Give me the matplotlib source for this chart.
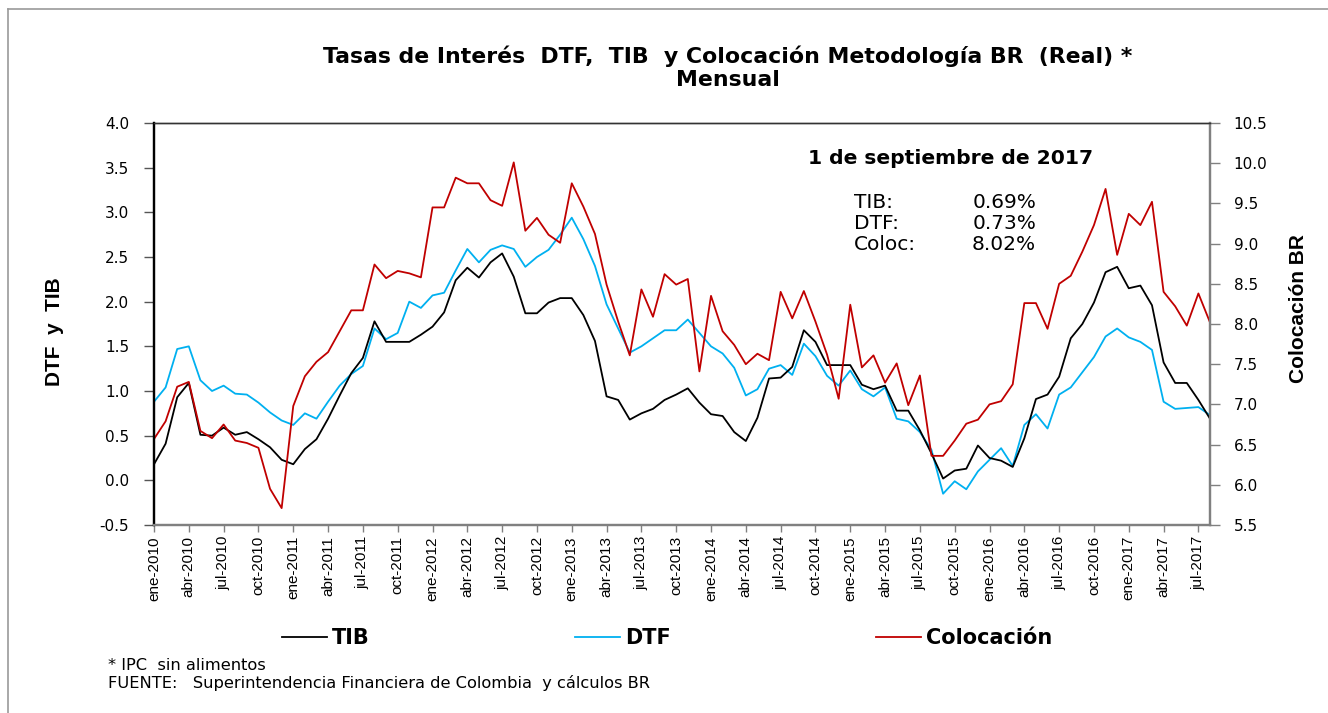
import matplotlib
matplotlib.use("Agg")
import matplotlib.pyplot as plt
from matplotlib.lines import Line2D

# ---------------- data ----------------
months_es = ["ene", "feb", "mar", "abr", "may", "jun", "jul", "ago", "sep", "oct", "nov", "dic"]
start_year = 2010
n_points = 92  # ene-2010 .. ago-2017

tib = [0.18, 0.41, 0.93, 1.09, 0.51, 0.50, 0.59, 0.51, 0.54, 0.46, 0.37, 0.23,
       0.18, 0.35, 0.46, 0.69, 0.95, 1.20, 1.37, 1.78, 1.55, 1.55, 1.55, 1.63,
       1.72, 1.88, 2.24, 2.38, 2.27, 2.44, 2.54, 2.28, 1.87, 1.87, 1.99, 2.04,
       2.04, 1.85, 1.56, 0.94, 0.90, 0.68, 0.75, 0.80, 0.90, 0.96, 1.03, 0.87,
       0.74, 0.72, 0.54, 0.44, 0.70, 1.14, 1.15, 1.27, 1.68, 1.55, 1.29, 1.29,
       1.29, 1.07, 1.02, 1.06, 0.78, 0.78, 0.56, 0.30, 0.02, 0.11, 0.13, 0.39,
       0.25, 0.22, 0.15, 0.47, 0.91, 0.96, 1.16, 1.59, 1.75, 1.99, 2.33, 2.39,
       2.15, 2.18, 1.96, 1.32, 1.09, 1.09, 0.90, 0.69]

dtf = [0.88, 1.04, 1.47, 1.50, 1.12, 1.00, 1.06, 0.97, 0.96, 0.87, 0.76, 0.67,
       0.62, 0.75, 0.69, 0.88, 1.06, 1.19, 1.28, 1.70, 1.58, 1.65, 2.00, 1.93,
       2.07, 2.10, 2.35, 2.59, 2.44, 2.58, 2.63, 2.59, 2.39, 2.50, 2.58, 2.75,
       2.94, 2.70, 2.40, 1.97, 1.70, 1.43, 1.50, 1.59, 1.68, 1.68, 1.80, 1.65,
       1.50, 1.42, 1.26, 0.95, 1.02, 1.25, 1.29, 1.18, 1.53, 1.39, 1.17, 1.06,
       1.23, 1.02, 0.94, 1.04, 0.69, 0.66, 0.54, 0.34, -0.15, -0.01, -0.10, 0.10,
       0.23, 0.36, 0.16, 0.62, 0.74, 0.58, 0.96, 1.04, 1.21, 1.38, 1.61, 1.70,
       1.60, 1.55, 1.46, 0.88, 0.80, 0.81, 0.82, 0.73]

colocacion = [6.57, 6.79, 7.22, 7.28, 6.67, 6.58, 6.75, 6.55, 6.52, 6.46, 5.95, 5.71,
              6.98, 7.35, 7.53, 7.65, 7.91, 8.17, 8.17, 8.74, 8.57, 8.66, 8.63, 8.58,
              9.45, 9.45, 9.82, 9.75, 9.75, 9.54, 9.47, 10.01, 9.16, 9.32, 9.11, 9.01,
              9.75, 9.46, 9.12, 8.49, 8.03, 7.61, 8.43, 8.09, 8.62, 8.49, 8.56, 7.41,
              8.35, 7.91, 7.74, 7.50, 7.63, 7.55, 8.40, 8.07, 8.41, 8.03, 7.62, 7.07,
              8.24, 7.46, 7.61, 7.27, 7.51, 6.99, 7.36, 6.36, 6.36, 6.55, 6.76, 6.81,
              7.00, 7.04, 7.25, 8.26, 8.26, 7.94, 8.50, 8.60, 8.90, 9.23, 9.68, 8.86,
              9.37, 9.23, 9.52, 8.40, 8.22, 7.98, 8.38, 8.02]

left_ticks = [-0.5, 0.0, 0.5, 1.0, 1.5, 2.0, 2.5, 3.0, 3.5, 4.0]
right_ticks = [5.5, 6.0, 6.5, 7.0, 7.5, 8.0, 8.5, 9.0, 9.5, 10.0, 10.5]

title_line1 = "Tasas de Interés  DTF,  TIB  y Colocación Metodología BR  (Real) *"
title_line2 = "Mensual"
note_title = "1 de septiembre de 2017"
note_labels = ["TIB:", "DTF:", "Coloc:"]
note_values = ["0.69%", "0.73%", "8.02%"]
footnote1 = "* IPC  sin alimentos"
footnote2 = "FUENTE:   Superintendencia Financiera de Colombia  y cálculos BR"

# ---------------- build labels ----------------
month_labels = []
for k in range(n_points):
    y = start_year + k // 12
    month_labels.append(f"{months_es[k % 12]}-{y}")
x = list(range(n_points))
tick_pos = list(range(0, n_points, 3))
tick_lab = [month_labels[k] for k in tick_pos]

C_TIB = "#000000"
C_DTF = "#00B0F0"
C_COL = "#C00000"

W, H = 1328, 713
fig = plt.figure(figsize=(W / 100, H / 100), dpi=100)
fig.patch.set_facecolor("white")

# outer frame lines (left and top)
fig.add_artist(Line2D([8 / W, 8 / W], [0, 1 - 9 / H], color="#9a9a9a", lw=1.2, transform=fig.transFigure))
fig.add_artist(Line2D([8 / W, 1], [1 - 9 / H, 1 - 9 / H], color="#9a9a9a", lw=1.2, transform=fig.transFigure))

ax_l, ax_r, ax_t, ax_b = 154, 1210, 123, 525
ax = fig.add_axes([ax_l / W, 1 - ax_b / H, (ax_r - ax_l) / W, (ax_b - ax_t) / H])
ax2 = ax.twinx()

l1, = ax.plot(x, tib, color=C_TIB, lw=1.3, label="TIB", zorder=3)
l2, = ax.plot(x, dtf, color=C_DTF, lw=1.3, label="DTF", zorder=2)
l3, = ax2.plot(x, colocacion, color=C_COL, lw=1.3, label="Colocación")

ax.set_xlim(0, n_points - 1)
ax.set_ylim(-0.5, 4.0)
ax2.set_ylim(5.5, 10.5)

ax.set_yticks(left_ticks)
ax.set_yticklabels([f"{v:.1f}" for v in left_ticks], fontsize=11, family="DejaVu Sans")
ax2.set_yticks(right_ticks)
ax2.set_yticklabels([f"{v:.1f}" for v in right_ticks], fontsize=11, family="DejaVu Sans")

ax.set_xticks(tick_pos)
ax.set_xticklabels(tick_lab, rotation=90, fontsize=11, family="Liberation Sans")

ax.tick_params(axis="y", direction="out", length=7, width=1, color="#555555", pad=11)
ax2.tick_params(axis="y", direction="out", length=7, width=1, color="#808080", pad=10)
ax.tick_params(axis="x", direction="out", length=5, width=1, color="#808080", pad=3)

for a in (ax, ax2):
    a.spines["left"].set_color("black")
    a.spines["left"].set_linewidth(1.6)
    a.spines["top"].set_color("#333333")
    a.spines["top"].set_linewidth(1.0)
    a.spines["right"].set_color("#808080")
    a.spines["right"].set_linewidth(1.6)
    a.spines["bottom"].set_color("#808080")
    a.spines["bottom"].set_linewidth(1.6)

# axis labels
fig.text(54 / W, 1 - 332 / H, "DTF  y  TIB", rotation=90, ha="center", va="center",
         fontsize=15, fontweight="bold", family="Liberation Sans")
fig.text(1298 / W, 1 - 309 / H, "Colocación BR", rotation=90, ha="center", va="center",
         fontsize=15, fontweight="bold", family="Liberation Sans")

# title
fig.text(728 / W, 1 - 56 / H, title_line1, ha="center", va="center",
         fontsize=15.8, fontweight="bold", family="DejaVu Sans")
fig.text(728 / W, 1 - 80 / H, title_line2, ha="center", va="center",
         fontsize=15.8, fontweight="bold", family="DejaVu Sans")

# annotation
fig.text(808 / W, 1 - 158 / H, note_title, ha="left", va="center",
         fontsize=14.6, fontweight="bold", family="DejaVu Sans")
for k, (lab, val) in enumerate(zip(note_labels, note_values)):
    yy = 1 - (202 + 21.5 * k) / H
    fig.text(854 / W, yy, lab, ha="left", va="center", fontsize=14.5, family="DejaVu Sans")
    fig.text(1036 / W, yy, val, ha="right", va="center", fontsize=14.5, family="DejaVu Sans")

# legend
fig.legend(handles=[l1, l2, l3], labels=["TIB", "DTF", "Colocación"], ncol=3,
           loc="center left", bbox_to_anchor=(282 / W, 1 - 638 / H), frameon=False,
           borderpad=0, borderaxespad=0, handlelength=2.15, handletextpad=0.25,
           columnspacing=9.85, prop={"family": "DejaVu Sans", "weight": "bold", "size": 15})

# footnotes
fig.text(108 / W, 1 - 666 / H, footnote1, ha="left", va="center", fontsize=11.7,
         family="DejaVu Sans")
fig.text(108 / W, 1 - 683 / H, footnote2, ha="left", va="center", fontsize=11.7,
         family="DejaVu Sans")

fig.savefig("out.png", dpi=100, facecolor="white")
